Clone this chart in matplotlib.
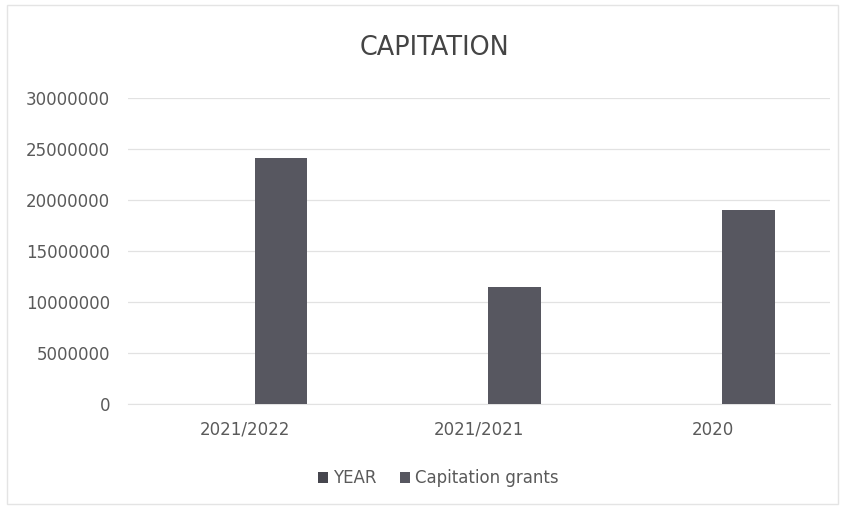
import numpy as np
import matplotlib
matplotlib.use("Agg")
import matplotlib.pyplot as plt
from matplotlib.patches import Rectangle

plt.rcParams['font.family'] = ['DejaVu Sans']

# ------------------ dades ------------------
categories = ["2021/2022", "2021/2021", "2020"]
year_vals = [2021, 2021, 2020]
capitation = [24100000, 11450000, 19000000]
yticks = [0, 5000000, 10000000, 15000000, 20000000, 25000000, 30000000]

fig = plt.figure(figsize=(8.44, 5.07), dpi=100)
ax = fig.add_axes([0.152, 0.203, 0.831, 0.604])

# marc del grafic
fig.patches.append(Rectangle((0.008, 0.005), 0.985, 0.985, transform=fig.transFigure,
                             fill=False, edgecolor="#e4e4e4", linewidth=1))

x = np.arange(len(categories))
w = 0.225
ax.bar(x - w / 2 + 0.04, year_vals, w, color="#46464e", label="YEAR", zorder=3)
ax.bar(x + w / 2 + 0.04, capitation, w, color="#575760", label="Capitation grants", zorder=3)

ax.set_xlim(-0.5, 2.5)
ax.set_ylim(0, 30000000)
ax.set_yticks(yticks)
ax.set_yticklabels([str(v) for v in yticks])
ax.set_xticks(x)
ax.set_xticklabels(categories)
ax.tick_params(axis='both', length=0, labelsize=12, colors="#5a5a5a")
ax.tick_params(axis='x', pad=12)
ax.tick_params(axis='y', pad=13)
ax.grid(axis='y', color="#e2e2e2", linewidth=0.9, zorder=0)
for s in ['top', 'right', 'left']:
    ax.spines[s].set_visible(False)
ax.spines['bottom'].set_color("#e2e2e2")

fig.text(0.515, 0.905, "CAPITATION", ha='center', va='center', fontsize=18.4, color="#444444")

fig.legend(loc='center', bbox_to_anchor=(0.519, 0.057), ncol=2, frameon=False,
           fontsize=12, handlelength=0.6, handleheight=0.6, columnspacing=1.4,
           handletextpad=0.3, labelcolor="#5a5a5a")

fig.savefig("out.png", dpi=100)
